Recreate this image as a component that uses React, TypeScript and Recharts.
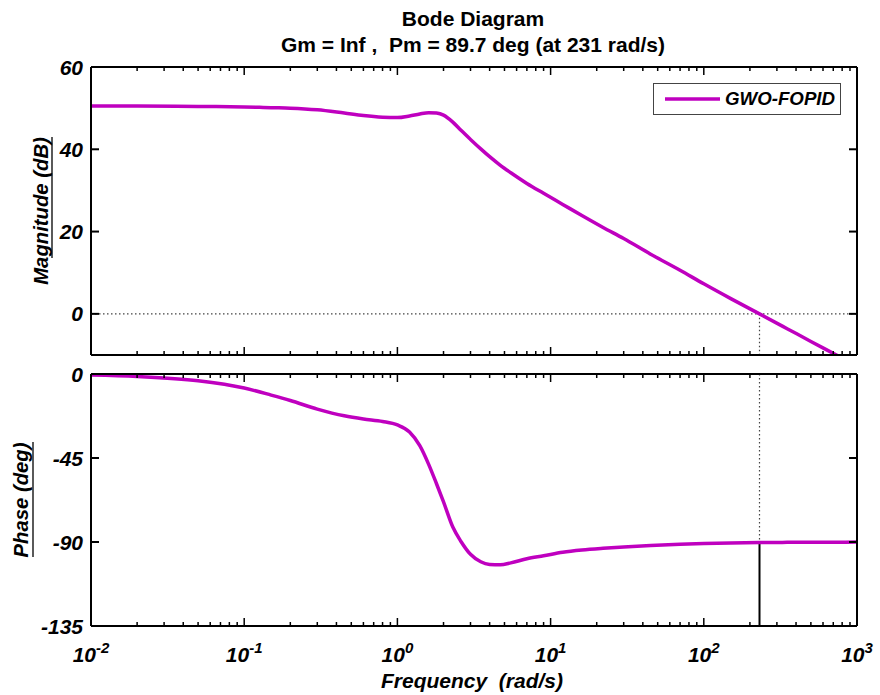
import React from 'react';
import { LineChart, Line, XAxis, YAxis, ReferenceLine, Legend } from 'recharts';

const FONT = '"Liberation Sans", Arial, Helvetica, sans-serif';
const MAGENTA = '#BF00BF';

// ---- data ----
const frequency = [0.01, 0.02, 0.05, 0.1, 0.15, 0.2, 0.3, 0.45, 0.6, 0.8, 1.0, 1.2, 1.4, 1.6, 1.8, 2.0, 2.3, 2.6, 3.0, 3.5, 4.0, 4.7, 5.5, 7, 9, 12, 16, 22, 30, 45, 70, 100, 150, 231, 350, 500, 750, 1000];
const magnitudeDb = [50.5, 50.5, 50.4, 50.3, 50.1, 50.0, 49.6, 48.8, 48.2, 47.8, 47.7, 48.1, 48.6, 48.9, 48.8, 48.3, 46.6, 44.6, 42.4, 40.1, 38.2, 36.1, 34.3, 31.7, 29.3, 26.6, 23.9, 21.0, 18.3, 14.5, 10.6, 7.3, 3.7, 0.0, -3.6, -6.7, -10.2, -12.7];
const phaseDeg = [-0.5, -1.3, -3.6, -7.5, -11.3, -14.2, -18.8, -22.4, -24.1, -25.4, -27.3, -31.1, -38.4, -48.4, -58.8, -68.5, -82, -89.7, -96.6, -100.6, -102.0, -102.2, -101.2, -99.0, -97.4, -95.5, -94.3, -93.4, -92.7, -91.9, -91.2, -90.8, -90.5, -90.3, -90.2, -90.1, -90.1, -90.0];
const seriesName = 'GWO-FOPID';
const decadeTicks = [0.01, 0.1, 1, 10, 100, 1000];
const minorSteps = [2, 3, 4, 5, 6, 7, 8, 9];
const magnitudeTicks = [0, 20, 40, 60];
const phaseTicks = [-135, -90, -45, 0];
const magnitudeDomain = [-10, 60];
const phaseDomain = [-135, 0];
const frequencyDomain = [0.01, 1000];
const titleLines = ['Bode Diagram', 'Gm = Inf ,  Pm = 89.7 deg (at 231 rad/s)'];
const xLabel = 'Frequency  (rad/s)';
const magLabel = 'Magnitude (dB)';
const phaseLabel = 'Phase (deg)';
const crossoverFreq = 231;
const crossoverPhase = -90.3;

const data = frequency.map((w, i) => ({ w, mag: magnitudeDb[i], phase: phaseDeg[i] }));
const freqTicks: number[] = decadeTicks.flatMap((d, i) =>
  i === decadeTicks.length - 1 ? [d] : [d, ...minorSteps.map((k) => d * k)]
);

const textStyle = { fontFamily: FONT, fontWeight: 'bold' as const, fontStyle: 'italic' as const, fill: '#000' };

function FreqTick(props: any) {
  const { x, y, payload, side, showLabel } = props;
  const v = payload.value;
  const lg = Math.log10(v);
  const exp = Math.round(lg);
  const major = Math.abs(lg - exp) < 1e-6;
  const len = major ? 8 : 4;
  const dir = side === 'bottom' ? -1 : 1;
  return (
    <g>
      <line x1={x} x2={x} y1={y} y2={y + dir * len} stroke="#000" strokeWidth={1.5} />
      {showLabel && major && (
        <text x={x} y={y + 36} textAnchor="middle" fontSize={21} {...textStyle}>
          <tspan>10</tspan>
          <tspan dy={-9} fontSize={15}>{String(exp)}</tspan>
        </text>
      )}
    </g>
  );
}

function LevelTick(props: any) {
  const { x, y, payload, side, showLabel } = props;
  const dir = side === 'left' ? 1 : -1;
  return (
    <g>
      <line x1={x} x2={x + dir * 8} y1={y} y2={y} stroke="#000" strokeWidth={2} />
      {showLabel && (
        <text x={x - 8} y={y + 7.5} textAnchor="end" fontSize={21} {...textStyle}>
          {payload.value}
        </text>
      )}
    </g>
  );
}

const renderLegend = (props: any) => {
  const item = props.payload && props.payload[0];
  return (
    <div
      style={{
        width: 188,
        height: 32,
        boxSizing: 'border-box',
        border: '1px solid #444',
        background: '#fff',
        display: 'flex',
        alignItems: 'center',
        fontFamily: FONT,
        fontWeight: 'bold',
        fontStyle: 'italic',
        fontSize: 18.7,
        color: '#000',
      }}
    >
      <svg width={71} height={30} style={{ flex: 'none' }}>
        <line x1={11} x2={66} y1={15} y2={15} stroke={item ? item.color : MAGENTA} strokeWidth={3.5} />
      </svg>
      <span style={{ whiteSpace: 'nowrap' }}>{item ? item.value : seriesName}</span>
    </div>
  );
};

const axisLine = { stroke: '#000', strokeWidth: 2 };

export default function App() {
  return (
    <div style={{ position: 'absolute', left: 0, top: 0, width: 880, height: 695, background: '#fff' }}>
      <svg width={880} height={695} style={{ position: 'absolute', left: 0, top: 0 }}>
        <text x={473} y={26} textAnchor="middle" fontFamily={FONT} fontWeight="bold" fontSize={21} fill="#000" style={{ whiteSpace: 'pre' }}>
          {titleLines[0]}
        </text>
        <text x={473} y={52} textAnchor="middle" fontFamily={FONT} fontWeight="bold" fontSize={21} fill="#000" style={{ whiteSpace: 'pre' }}>
          {titleLines[1]}
        </text>
        <text x={48} y={211} transform="rotate(-90, 48, 211)" textAnchor="middle" fontSize={20.3} {...textStyle}>
          {magLabel}
        </text>
        <line x1={52} x2={52} y1={137} y2={258} stroke="#000" strokeWidth={1.3} />
        <text x={28} y={500} transform="rotate(-90, 28, 500)" textAnchor="middle" fontSize={20.3} {...textStyle}>
          {phaseLabel}
        </text>
        <line x1={33} x2={33} y1={442} y2={557} stroke="#000" strokeWidth={1.3} />
        <text x={472} y={688} textAnchor="middle" fontSize={21} style={{ whiteSpace: 'pre' }} {...textStyle}>
          {xLabel}
        </text>
      </svg>

      <div style={{ position: 'absolute', left: 0, top: 0 }}>
        <LineChart width={880} height={362} data={data} margin={{ top: 66, bottom: 6, left: 90, right: 22 }}>
          <XAxis xAxisId="b" dataKey="w" type="number" scale="log" domain={frequencyDomain} allowDataOverflow ticks={freqTicks} interval={0} height={1} tickSize={0} tickMargin={0} tickLine={false} axisLine={axisLine} tick={(p: any) => <FreqTick {...p} side="bottom" />} />
          <XAxis xAxisId="t" orientation="top" dataKey="w" type="number" scale="log" domain={frequencyDomain} allowDataOverflow ticks={freqTicks} interval={0} height={1} tickSize={0} tickMargin={0} tickLine={false} axisLine={axisLine} tick={(p: any) => <FreqTick {...p} side="top" />} />
          <YAxis yAxisId="l" type="number" domain={magnitudeDomain} allowDataOverflow ticks={magnitudeTicks} interval={0} width={1} tickSize={0} tickMargin={0} tickLine={false} axisLine={axisLine} tick={(p: any) => <LevelTick {...p} side="left" showLabel />} />
          <YAxis yAxisId="r" orientation="right" type="number" domain={magnitudeDomain} allowDataOverflow ticks={magnitudeTicks} interval={0} width={1} tickSize={0} tickMargin={0} tickLine={false} axisLine={axisLine} tick={(p: any) => <LevelTick {...p} side="right" />} />
          <ReferenceLine xAxisId="b" yAxisId="l" y={0} stroke="#444" strokeWidth={1.2} strokeDasharray="1.5 2.5" />
          <ReferenceLine xAxisId="b" yAxisId="l" segment={[{ x: crossoverFreq, y: 0 }, { x: crossoverFreq, y: magnitudeDomain[0] }]} stroke="#444" strokeWidth={1.2} strokeDasharray="1.5 2.5" />
          <Line xAxisId="b" yAxisId="l" name={seriesName} dataKey="mag" type="monotone" stroke={MAGENTA} strokeWidth={3.5} dot={false} isAnimationActive={false} />
          <Legend layout="horizontal" verticalAlign="middle" align="center" wrapperStyle={{ left: 653, top: 83, width: 188, height: 32 }} content={renderLegend} />
        </LineChart>
      </div>

      <div style={{ position: 'absolute', left: 0, top: 362 }}>
        <LineChart width={880} height={333} data={data} margin={{ top: 11, bottom: 68, left: 90, right: 22 }}>
          <XAxis xAxisId="b" dataKey="w" type="number" scale="log" domain={frequencyDomain} allowDataOverflow ticks={freqTicks} interval={0} height={1} tickSize={0} tickMargin={0} tickLine={false} axisLine={axisLine} tick={(p: any) => <FreqTick {...p} side="bottom" showLabel />} />
          <XAxis xAxisId="t" orientation="top" dataKey="w" type="number" scale="log" domain={frequencyDomain} allowDataOverflow ticks={freqTicks} interval={0} height={1} tickSize={0} tickMargin={0} tickLine={false} axisLine={axisLine} tick={(p: any) => <FreqTick {...p} side="top" />} />
          <YAxis yAxisId="l" type="number" domain={phaseDomain} allowDataOverflow ticks={phaseTicks} interval={0} width={1} tickSize={0} tickMargin={0} tickLine={false} axisLine={axisLine} tick={(p: any) => <LevelTick {...p} side="left" showLabel />} />
          <YAxis yAxisId="r" orientation="right" type="number" domain={phaseDomain} allowDataOverflow ticks={phaseTicks} interval={0} width={1} tickSize={0} tickMargin={0} tickLine={false} axisLine={axisLine} tick={(p: any) => <LevelTick {...p} side="right" />} />
          <ReferenceLine xAxisId="b" yAxisId="l" segment={[{ x: crossoverFreq, y: phaseDomain[1] }, { x: crossoverFreq, y: crossoverPhase }]} stroke="#444" strokeWidth={1.2} strokeDasharray="1.5 2.5" />
          <ReferenceLine xAxisId="b" yAxisId="l" segment={[{ x: crossoverFreq, y: crossoverPhase }, { x: crossoverFreq, y: phaseDomain[0] }]} stroke="#000" strokeWidth={2} />
          <Line xAxisId="b" yAxisId="l" name={seriesName} dataKey="phase" type="monotone" stroke={MAGENTA} strokeWidth={3.5} dot={false} isAnimationActive={false} />
        </LineChart>
      </div>
    </div>
  );
}
